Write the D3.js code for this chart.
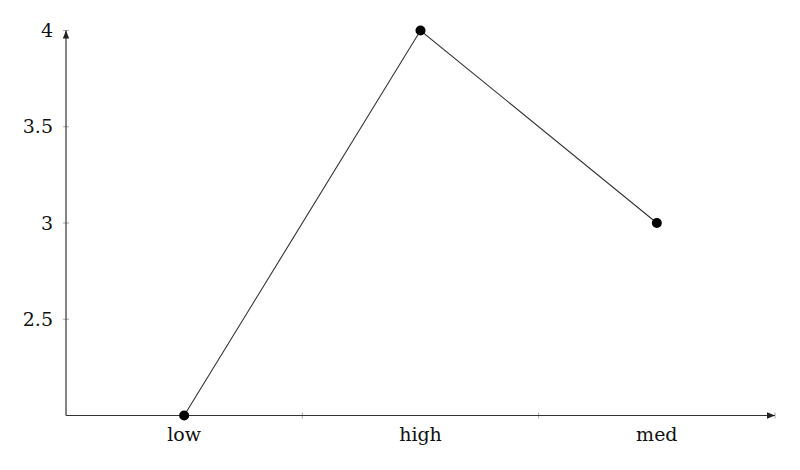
<!DOCTYPE html>
<html>
<head>
<meta charset="utf-8">
<script src="https://cdn.jsdelivr.net/npm/d3@7"></script>
<style>
  body { margin: 0; background: #fff; }
</style>
</head>
<body>
<svg id="svg" width="800" height="470"></svg>
<script>
const categories = ["low", "high", "med"];
const values = [2, 4, 3];
const yTicks = [2.5, 3, 3.5, 4];
const yTickLabels = ["2.5", "3", "3.5", "4"];

const font = "'DejaVu Serif', serif";

const svg = d3.select("#svg");

const x = d3.scaleBand().domain(categories).range([66, 775]);
const y = d3.scaleLinear().domain([2, 4]).range([415.5, 30.5]);

const defs = svg.append("defs");
defs
  .append("marker")
  .attr("id", "arrow")
  .attr("viewBox", "0 0 10 10")
  .attr("refX", 10)
  .attr("refY", 5)
  .attr("markerWidth", 8)
  .attr("markerHeight", 8)
  .attr("markerUnits", "userSpaceOnUse")
  .attr("orient", "auto")
  .append("path")
  .attr("d", "M0,1 L10,5 L0,9 Z")
  .attr("fill", "#222");

// band boundary ticks on x axis
const bounds = categories.slice(1).map(c => x(c));
bounds.concat([x.range()[1]]).forEach(b => {
  svg
    .append("line")
    .attr("x1", b)
    .attr("x2", b)
    .attr("y1", y(2) - 3)
    .attr("y2", y(2) + 3)
    .attr("stroke", "#aaa")
    .attr("stroke-width", 1);
});

// y ticks
yTicks.forEach((t, i) => {
  svg
    .append("line")
    .attr("x1", x.range()[0] - 3)
    .attr("x2", x.range()[0] + 3)
    .attr("y1", y(t))
    .attr("y2", y(t))
    .attr("stroke", "#aaa")
    .attr("stroke-width", 1);
  svg
    .append("text")
    .attr("x", x.range()[0] - 13)
    .attr("y", y(t))
    .attr("dy", "0.35em")
    .attr("text-anchor", "end")
    .attr("font-family", font)
    .attr("font-size", 19)
    .attr("fill", "#111")
    .text(yTickLabels[i]);
});

// axes
svg
  .append("line")
  .attr("x1", x.range()[0])
  .attr("x2", x.range()[1])
  .attr("y1", y(2))
  .attr("y2", y(2))
  .attr("stroke", "#333")
  .attr("stroke-width", 1.2)
  .attr("marker-end", "url(#arrow)");
svg
  .append("line")
  .attr("x1", x.range()[0])
  .attr("x2", x.range()[0])
  .attr("y1", y(2))
  .attr("y2", y(4))
  .attr("stroke", "#333")
  .attr("stroke-width", 1.2)
  .attr("marker-end", "url(#arrow)");

// x labels
categories.forEach(c => {
  svg
    .append("text")
    .attr("x", x(c) + x.bandwidth() / 2)
    .attr("y", 441)
    .attr("text-anchor", "middle")
    .attr("font-family", font)
    .attr("font-size", 19)
    .attr("fill", "#111")
    .text(c);
});

const data = categories.map((c, i) => ({ c, v: values[i] }));
const line = d3
  .line()
  .x(d => x(d.c) + x.bandwidth() / 2)
  .y(d => y(d.v));

svg
  .append("path")
  .attr("d", line(data))
  .attr("fill", "none")
  .attr("stroke", "#333")
  .attr("stroke-width", 1.1);

svg
  .selectAll("circle.pt")
  .data(data)
  .join("circle")
  .attr("class", "pt")
  .attr("cx", d => x(d.c) + x.bandwidth() / 2)
  .attr("cy", d => y(d.v))
  .attr("r", 5)
  .attr("fill", "#000");
</script>
</body>
</html>
